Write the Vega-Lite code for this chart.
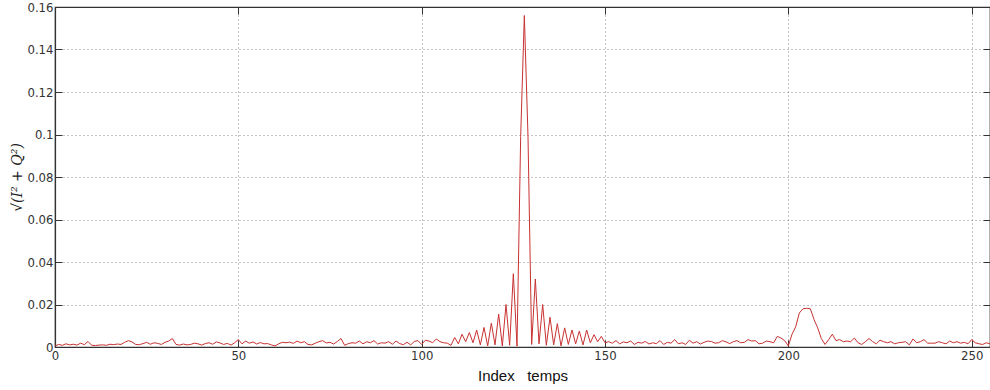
{
  "$schema": "https://vega.github.io/schema/vega-lite/v6.json",
  "width": 935,
  "height": 340,
  "autosize": {"type": "none"},
  "padding": {"left": 55, "top": 7, "right": 0, "bottom": 43},
  "background": "white",
  "config": {
    "view": {"stroke": "#333333", "strokeWidth": 1.2},
    "axis": {
      "domainColor": "#333333",
      "domainWidth": 1.2,
      "tickColor": "#333333",
      "tickSize": -7,
      "labelPadding": 9,
      "labelFont": "Liberation Sans Narrow, DejaVu Sans Condensed, sans-serif",
      "labelFontSize": 13,
      "labelColor": "#333333",
      "gridColor": "#888888",
      "gridDash": [1, 3],
      "gridWidth": 1,
      "labelOverlap": false,
      "labelFlush": false
    }
  },
  "data": {
    "values": [
      {"n":0,"v":0.0005},{"n":1,"v":0.0012},{"n":2,"v":0.0008},{"n":3,"v":0.0015},{"n":4,"v":0.0010},
      {"n":5,"v":0.0013},{"n":6,"v":0.0009},{"n":7,"v":0.0018},{"n":8,"v":0.0011},{"n":9,"v":0.0026},
      {"n":10,"v":0.0008},{"n":11,"v":0.0007},{"n":12,"v":0.0009},{"n":13,"v":0.0010},{"n":14,"v":0.0008},
      {"n":15,"v":0.0013},{"n":16,"v":0.0011},{"n":17,"v":0.0014},{"n":18,"v":0.0012},{"n":19,"v":0.0022},
      {"n":20,"v":0.0030},{"n":21,"v":0.0024},{"n":22,"v":0.0012},{"n":23,"v":0.0011},{"n":24,"v":0.0016},
      {"n":25,"v":0.0022},{"n":26,"v":0.0013},{"n":27,"v":0.0020},{"n":28,"v":0.0017},{"n":29,"v":0.0012},
      {"n":30,"v":0.0022},{"n":31,"v":0.0028},{"n":32,"v":0.0040},{"n":33,"v":0.0012},{"n":34,"v":0.0009},
      {"n":35,"v":0.0014},{"n":36,"v":0.0010},{"n":37,"v":0.0012},{"n":38,"v":0.0018},{"n":39,"v":0.0015},
      {"n":40,"v":0.0009},{"n":41,"v":0.0016},{"n":42,"v":0.0020},{"n":43,"v":0.0013},{"n":44,"v":0.0024},
      {"n":45,"v":0.0019},{"n":46,"v":0.0012},{"n":47,"v":0.0017},{"n":48,"v":0.0009},{"n":49,"v":0.0020},
      {"n":50,"v":0.0035},{"n":51,"v":0.0015},{"n":52,"v":0.0028},{"n":53,"v":0.0018},{"n":54,"v":0.0024},
      {"n":55,"v":0.0014},{"n":56,"v":0.0021},{"n":57,"v":0.0015},{"n":58,"v":0.0016},{"n":59,"v":0.0010},
      {"n":60,"v":0.0005},{"n":61,"v":0.0015},{"n":62,"v":0.0022},{"n":63,"v":0.0020},{"n":64,"v":0.0023},
      {"n":65,"v":0.0017},{"n":66,"v":0.0028},{"n":67,"v":0.0020},{"n":68,"v":0.0025},{"n":69,"v":0.0012},
      {"n":70,"v":0.0010},{"n":71,"v":0.0018},{"n":72,"v":0.0025},{"n":73,"v":0.0030},{"n":74,"v":0.0019},
      {"n":75,"v":0.0022},{"n":76,"v":0.0014},{"n":77,"v":0.0026},{"n":78,"v":0.0040},{"n":79,"v":0.0008},
      {"n":80,"v":0.0016},{"n":81,"v":0.0020},{"n":82,"v":0.0018},{"n":83,"v":0.0028},{"n":84,"v":0.0015},
      {"n":85,"v":0.0025},{"n":86,"v":0.0020},{"n":87,"v":0.0030},{"n":88,"v":0.0014},{"n":89,"v":0.0020},
      {"n":90,"v":0.0018},{"n":91,"v":0.0025},{"n":92,"v":0.0013},{"n":93,"v":0.0028},{"n":94,"v":0.0016},
      {"n":95,"v":0.0011},{"n":96,"v":0.0022},{"n":97,"v":0.0010},{"n":98,"v":0.0026},{"n":99,"v":0.0030},
      {"n":100,"v":0.0012},{"n":101,"v":0.0032},{"n":102,"v":0.0028},{"n":103,"v":0.0020},{"n":104,"v":0.0038},
      {"n":105,"v":0.0025},{"n":106,"v":0.0020},{"n":107,"v":0.0018},{"n":108,"v":0.0008},{"n":109,"v":0.0045},
      {"n":110,"v":0.0015},{"n":111,"v":0.0060},{"n":112,"v":0.0025},{"n":113,"v":0.0068},{"n":114,"v":0.0020},
      {"n":115,"v":0.0080},{"n":116,"v":0.0010},{"n":117,"v":0.0092},{"n":118,"v":0.0005},{"n":119,"v":0.0112},
      {"n":120,"v":0.0010},{"n":121,"v":0.0155},{"n":122,"v":0.0005},{"n":123,"v":0.0200},{"n":124,"v":0.0008},
      {"n":125,"v":0.0345},{"n":126,"v":0.0004},{"n":127,"v":0.0990},{"n":128,"v":0.1560},{"n":129,"v":0.0990},
      {"n":130,"v":0.0012},{"n":131,"v":0.0320},{"n":132,"v":0.0015},{"n":133,"v":0.0200},{"n":134,"v":0.0008},
      {"n":135,"v":0.0140},{"n":136,"v":0.0010},{"n":137,"v":0.0110},{"n":138,"v":0.0005},{"n":139,"v":0.0090},
      {"n":140,"v":0.0012},{"n":141,"v":0.0080},{"n":142,"v":0.0015},{"n":143,"v":0.0075},{"n":144,"v":0.0010},
      {"n":145,"v":0.0080},{"n":146,"v":0.0020},{"n":147,"v":0.0058},{"n":148,"v":0.0025},{"n":149,"v":0.0050},
      {"n":150,"v":0.0020},{"n":151,"v":0.0025},{"n":152,"v":0.0018},{"n":153,"v":0.0030},{"n":154,"v":0.0015},
      {"n":155,"v":0.0024},{"n":156,"v":0.0020},{"n":157,"v":0.0028},{"n":158,"v":0.0012},{"n":159,"v":0.0022},
      {"n":160,"v":0.0018},{"n":161,"v":0.0026},{"n":162,"v":0.0014},{"n":163,"v":0.0020},{"n":164,"v":0.0016},
      {"n":165,"v":0.0030},{"n":166,"v":0.0012},{"n":167,"v":0.0022},{"n":168,"v":0.0018},{"n":169,"v":0.0035},
      {"n":170,"v":0.0015},{"n":171,"v":0.0020},{"n":172,"v":0.0012},{"n":173,"v":0.0032},{"n":174,"v":0.0018},
      {"n":175,"v":0.0025},{"n":176,"v":0.0014},{"n":177,"v":0.0022},{"n":178,"v":0.0028},{"n":179,"v":0.0026},
      {"n":180,"v":0.0018},{"n":181,"v":0.0020},{"n":182,"v":0.0030},{"n":183,"v":0.0024},{"n":184,"v":0.0016},
      {"n":185,"v":0.0025},{"n":186,"v":0.0030},{"n":187,"v":0.0020},{"n":188,"v":0.0022},{"n":189,"v":0.0035},
      {"n":190,"v":0.0028},{"n":191,"v":0.0030},{"n":192,"v":0.0015},{"n":193,"v":0.0018},{"n":194,"v":0.0028},
      {"n":195,"v":0.0025},{"n":196,"v":0.0020},{"n":197,"v":0.0050},{"n":198,"v":0.0042},{"n":199,"v":0.0030},
      {"n":200,"v":0.0005},{"n":201,"v":0.0060},{"n":202,"v":0.0095},{"n":203,"v":0.0160},{"n":204,"v":0.0180},
      {"n":205,"v":0.0182},{"n":206,"v":0.0180},{"n":207,"v":0.0130},{"n":208,"v":0.0090},{"n":209,"v":0.0040},
      {"n":210,"v":0.0012},{"n":211,"v":0.0035},{"n":212,"v":0.0060},{"n":213,"v":0.0030},{"n":214,"v":0.0035},
      {"n":215,"v":0.0025},{"n":216,"v":0.0028},{"n":217,"v":0.0025},{"n":218,"v":0.0042},{"n":219,"v":0.0020},
      {"n":220,"v":0.0012},{"n":221,"v":0.0025},{"n":222,"v":0.0040},{"n":223,"v":0.0025},{"n":224,"v":0.0015},
      {"n":225,"v":0.0032},{"n":226,"v":0.0025},{"n":227,"v":0.0020},{"n":228,"v":0.0025},{"n":229,"v":0.0015},
      {"n":230,"v":0.0020},{"n":231,"v":0.0022},{"n":232,"v":0.0025},{"n":233,"v":0.0010},{"n":234,"v":0.0038},
      {"n":235,"v":0.0020},{"n":236,"v":0.0025},{"n":237,"v":0.0035},{"n":238,"v":0.0018},{"n":239,"v":0.0018},
      {"n":240,"v":0.0018},{"n":241,"v":0.0025},{"n":242,"v":0.0020},{"n":243,"v":0.0015},{"n":244,"v":0.0028},
      {"n":245,"v":0.0020},{"n":246,"v":0.0025},{"n":247,"v":0.0018},{"n":248,"v":0.0022},{"n":249,"v":0.0015},
      {"n":250,"v":0.0035},{"n":251,"v":0.0020},{"n":252,"v":0.0015},{"n":253,"v":0.0012},{"n":254,"v":0.0020},
      {"n":255,"v":0.0015}
    ]
  },
  "layer": [
    {
      "mark": {"type": "line", "color": "#c83232", "strokeWidth": 1, "clip": true},
      "encoding": {
        "x": {
          "field": "n",
          "type": "quantitative",
          "scale": {"domain": [0, 255], "nice": false, "zero": false},
          "axis": {
            "values": [0, 50, 100, 150, 200, 250],
            "title": "Index\u00a0\u00a0\u00a0temps",
            "titleFont": "Liberation Sans, Arial, sans-serif",
            "titleFontSize": 15,
            "titleFontWeight": "normal",
            "titleColor": "#111111",
            "titleY": 28,
            "titleBaseline": "middle",
            "grid": true
          }
        },
        "y": {
          "field": "v",
          "type": "quantitative",
          "scale": {"domain": [0, 0.16], "nice": false},
          "axis": {
            "values": [0, 0.02, 0.04, 0.06, 0.08, 0.1, 0.12, 0.14, 0.16],
            "format": "~g",
            "title": "√(I² + Q²)",
            "titleFont": "DejaVu Serif, serif",
            "titleFontStyle": "italic",
            "titleFontSize": 14,
            "titleFontWeight": "normal",
            "titleColor": "#222222",
            "titleAngle": -90,
            "titleX": -38,
            "titleY": 170,
            "titleAlign": "center",
            "titleBaseline": "middle",
            "grid": true
          }
        }
      }
    },
    {
      "mark": {"type": "line", "opacity": 0, "clip": true},
      "encoding": {
        "x": {
          "field": "n",
          "type": "quantitative",
          "scale": {"domain": [0, 255], "nice": false, "zero": false},
          "axis": {
            "orient": "top",
            "values": [0, 50, 100, 150, 200, 250],
            "labels": false,
            "title": null,
            "grid": false
          }
        },
        "y": {
          "field": "v",
          "type": "quantitative",
          "scale": {"domain": [0, 0.16], "nice": false},
          "axis": {
            "orient": "right",
            "values": [0, 0.02, 0.04, 0.06, 0.08, 0.1, 0.12, 0.14, 0.16],
            "labels": false,
            "title": null,
            "grid": false
          }
        }
      }
    }
  ],
  "resolve": {"axis": {"x": "independent", "y": "independent"}}
}
